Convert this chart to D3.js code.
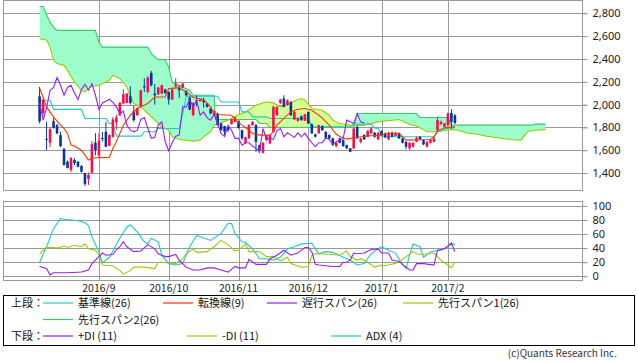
<!DOCTYPE html>
<html>
<head>
<meta charset="utf-8">
<script src="https://cdn.jsdelivr.net/npm/d3@7"></script>
<style>
  body { margin: 0; background: #fff; }
  svg { display: block; font-family: "Noto Sans CJK JP", "Noto Sans", sans-serif; }
</style>
</head>
<body>
<div id="chart"></div>
<script>
// daily candles, Aug 8 2016 .. Feb 3 2017 (index = trading day)
var opens  = [2073,1925,1700,1666,1855,1820,1733,1611,1500,1427,1514,1500,1462,1398,1349,1404,1666,1558,1707,1762,
              1640,1718,1844,1907,2010,2015,2073,1942,1907,1986,2160,2111,2277,2097,2091,2097,2132,2111,2045,2160,
              2150,2150,2120,2062,1907,2038,2030,2038,2010,1966,1914,1922,1835,1811,1803,1829,1849,1855,1776,1666,
              1704,1820,1820,1645,1578,1689,1660,1762,1907,2015,2053,1995,2023,1870,1858,1898,1858,1936,1829,1740,
              1748,1811,1762,1733,1704,1637,1704,1689,1645,1617,1617,1805,1674,1733,1718,1748,1753,1695,1768,1748,
              1695,1753,1725,1748,1704,1674,1617,1631,1674,1718,1689,1631,1666,1674,1776,1829,1805,1820,1927,1907];
var highs  = [2155,2060,1849,1803,1881,1830,1762,1620,1510,1540,1530,1505,1470,1405,1405,1680,1750,1750,1760,1850,
              1740,1890,1910,2020,2135,2100,2160,1990,1975,2130,2230,2250,2295,2180,2155,2175,2140,2115,2140,2230,
              2170,2190,2125,2070,2020,2080,2055,2060,2015,1970,1950,1930,1840,1815,1810,1875,1895,1860,1780,1720,
              1830,1855,1830,1650,1670,1730,1740,1990,1985,2050,2082,2045,2030,1940,1890,1905,1920,1940,1835,1745,
              1825,1820,1765,1740,1710,1670,1710,1695,1650,1620,1800,1815,1710,1740,1775,1800,1760,1760,1775,1755,
              1760,1765,1760,1755,1710,1680,1670,1670,1720,1725,1695,1680,1700,1720,1890,1860,1840,1930,1960,1915];
var lows   = [1835,1900,1602,1628,1790,1740,1628,1465,1440,1410,1470,1450,1405,1288,1296,1395,1555,1540,1678,1631,
              1635,1710,1780,1900,2005,2010,2000,1850,1900,1980,2110,2100,2160,2000,2085,2090,2095,2000,2040,2140,
              2060,2145,2075,1950,1900,1985,2025,1975,1975,1915,1910,1815,1770,1730,1760,1825,1845,1790,1690,1655,
              1700,1815,1587,1575,1570,1680,1655,1755,1900,2005,1975,1990,1900,1865,1850,1860,1855,1830,1745,1710,
              1745,1770,1700,1695,1640,1625,1660,1630,1612,1585,1610,1700,1660,1690,1715,1740,1710,1690,1725,1708,
              1690,1715,1720,1700,1660,1610,1600,1625,1670,1690,1645,1625,1660,1670,1760,1820,1800,1790,1790,1830];
var closes = [1855,2040,1695,1785,1797,1748,1637,1471,1445,1532,1488,1456,1412,1305,1383,1654,1602,1683,1700,1631,
              1733,1870,1887,2018,2091,2097,2015,1864,1971,2126,2150,2237,2170,2082,2150,2170,2102,2045,2132,2178,
              2126,2184,2082,1957,2015,2030,2047,2020,1980,1922,1942,1820,1776,1762,1776,1870,1887,1795,1704,1713,
              1820,1849,1674,1596,1666,1724,1733,1980,1980,2045,1980,2038,1907,1936,1884,1864,1916,1835,1748,1720,
              1820,1776,1704,1704,1645,1666,1666,1637,1617,1587,1791,1704,1704,1695,1770,1791,1718,1753,1733,1713,
              1753,1718,1750,1704,1666,1631,1666,1666,1709,1695,1652,1674,1689,1704,1864,1849,1835,1922,1849,1840];

// ichimoku lines as [day index, price] vertices
var tenkan = [[0,2143],[1,2067],[2,1980],[4,1890],[6,1820],[7,1791],[8,1748],[9,1645],[10,1637],[12,1600],[14,1514],[15,1532],
              [20,1538],[21,1617],[22,1674],[24,1820],[26,1907],[28,1966],[31,2010],[33,2067],[36,2067],[37,2140],[40,2149],
              [42,2111],[44,2062],[47,2045],[49,1980],[50,1922],[51,1913],[55,1907],[56,1870],[58,1820],[60,1776],[61,1748],
              [63,1733],[66,1733],[67,1762],[68,1820],[69,1849],[70,1879],[72,1936],[74,1960],[76,1966],[78,1951],[80,1907],
              [81,1881],[83,1820],[85,1740],[86,1720],[88,1698],[92,1718],[95,1727],[98,1733],[100,1748],[103,1748],[105,1689],
              [112,1695],[113,1718],[114,1770],[116,1797],[119,1805]];
var kijun  = [[0,2038],[3,2038],[4,1958],[12,1958],[13,1879],[19,1879],[20,1835],[21,1835],[22,1724],[29,1724],[30,1762],
              [33,1762],[34,1791],[40,1791],[41,1920],[42,2073],[51,2073],[52,2023],[57,2023],[58,1936],[60,1936],[61,1893],
              [65,1893],[66,1879],[77,1879],[78,1805],[89,1805],[90,1829],[95,1829],[96,1794],[97,1794],[98,1718],[113,1718],
              [114,1760],[116,1790],[119,1800]];
var span1  = [[0,2577],[2,2566],[3,2504],[4,2388],[5,2360],[7,2344],[8,2300],[10,2198],[12,2126],[13,2111],[14,2140],[15,2160],
              [17,2169],[19,2198],[20,2213],[21,2257],[23,2228],[25,2155],[26,2067],[27,2010],[29,1980],[31,1922],[34,1835],
              [35,1805],[37,1776],[38,1718],[40,1695],[44,1680],[46,1689],[47,1718],[49,1762],[50,1820],[54,1864],[56,1898],
              [59,1936],[62,1995],[64,2015],[65,2023],[67,2015],[69,1980],[71,2000],[74,2045],[75,2053],[76,2040],[78,1966],
              [81,1951],[83,1907],[84,1864],[86,1835],[89,1820],[91,1815],[93,1820],[97,1849],[103,1870],[106,1825],[108,1812],
              [111,1762],[114,1762],[118,1783],[120,1776],[122,1753],[125,1742],[128,1724],[131,1709],[135,1695],[138,1689],
              [139,1733],[140,1765],[142,1776],[145,1783]];
var span2  = [[0,2860],[1,2860],[2,2790],[3,2720],[4,2679],[5,2650],[16,2650],[17,2548],[18,2504],[31,2504],[32,2446],[34,2394],
              [36,2394],[37,2329],[38,2198],[40,2169],[42,2140],[43,2126],[44,2082],[50,2082],[50.4,1870],[62,1870],[63,1835],
              [65,1835],[66,1800],[90,1800],[91,1922],[108,1922],[109,1887],[117,1887],[118,1820],[141,1820],[142,1829],[145,1829]];

// DMI lines, [day index, value]
var plusDI  = [[0,14],[2,11],[3,2],[4,5],[8,5],[12,6],[14,9],[15,18],[17,28],[18,33],[19,30],[21,31],[22,38],[23,42],[24,49],
               [25,42],[27,35],[29,36],[31,45],[33,39],[34,32],[36,28],[37,28],[39,31],[40,23],[42,13],[44,9],[46,9],[48,12],
               [50,12],[52,9],[54,6],[56,14],[57,12],[59,12],[60,24],[62,17],[65,17],[66,25],[68,30],[70,37],[72,30],[74,33],
               [76,41],[77,41],[78,35],[79,17],[80,16],[84,14],[86,14],[87,20],[88,20],[89,23],[90,33],[91,32],[93,33],[95,38],
               [97,39],[98,33],[100,33],[101,23],[103,21],[105,13],[106,9],[107,9],[108,18],[110,18],[113,16],[114,37],[116,39],
               [117,43],[118,47],[119,35]];
var minusDI = [[0,31],[1,37],[2,41],[4,41],[5,40],[7,43],[8,41],[10,44],[12,42],[13,46],[14,39],[16,37],[17,30],[18,16],[21,15],
               [23,8],[24,3],[26,8],[27,13],[30,13],[33,11],[34,20],[35,20],[37,19],[39,18],[41,25],[42,32],[44,39],[45,34],
               [48,35],[50,42],[52,51],[54,45],[56,36],[57,37],[59,46],[60,35],[63,35],[65,28],[67,28],[69,22],[71,27],[72,18],
               [75,13],[77,14],[78,30],[79,32],[80,32],[84,31],[86,30],[88,36],[89,28],[91,23],[92,25],[94,20],[96,13],[98,16],
               [99,15],[101,17],[103,20],[105,28],[107,35],[108,32],[110,31],[111,32],[113,33],[115,23],[117,16],[118,12],[119,20]];
var adx     = [[0,20],[2,42],[4,68],[6,82],[7,81],[11,79],[13,76],[14,72],[15,56],[17,35],[18,19],[20,27],[23,54],[25,70],[26,73],
               [28,63],[30,49],[31,46],[32,54],[34,49],[35,30],[37,18],[39,16],[41,18],[43,42],[45,58],[49,51],[52,61],[54,75],
               [55,75],[56,61],[58,49],[59,48],[61,39],[63,25],[65,25],[67,23],[69,27],[71,39],[73,42],[75,46],[78,47],[79,39],
               [80,32],[82,35],[84,34],[85,32],[87,27],[89,23],[91,16],[93,18],[95,32],[97,39],[98,42],[100,37],[102,33],[104,16],
               [105,11],[106,30],[107,46],[109,42],[110,27],[112,35],[115,37],[117,42],[118,47],[119,45]];

var monthIdx    = [17, 37, 57, 77, 98, 117];
var monthLabels = ["2016/9", "2016/10", "2016/11", "2016/12", "2017/1", "2017/2"];
var priceTicks  = [1400, 1600, 1800, 2000, 2200, 2400, 2600, 2800];
var dmiTicks    = [0, 20, 40, 60, 80, 100];

var W = 638, H = 362;
var left = 3, right = 582;
var top1 = 0.5, bot1 = 190.5, top2 = 201.5, bot2 = 280.5;

var svg = d3.select('#chart').append('svg')
    .attr('width', W)
    .attr('height', H);

var x = d3.scaleLinear().domain([0, 119]).range([39.6, 39.6 + 119 * 3.49]);
var y = d3.scaleLinear().domain([1400, 2800]).range([173.1, 13.3]);
var y2 = d3.scaleLinear().domain([0, 100]).range([276.3, 205.9]);

var gridColor = '#999';

// ---- panel frames / grids
function drawGrid(yScale, ticks, t, b) {
  var g = svg.append('g');
  ticks.forEach(function(v) {
    var yy = Math.round(yScale(v)) + 0.5;
    g.append('line').attr('x1', left).attr('x2', right + 5).attr('y1', yy).attr('y2', yy)
      .style('stroke', gridColor);
  });
  monthIdx.forEach(function(i) {
    var xx = Math.round(x(i)) + 0.5;
    g.append('line').attr('x1', xx).attr('x2', xx).attr('y1', t).attr('y2', b)
      .style('stroke', gridColor);
  });
  g.append('rect').attr('x', left + 0.5).attr('y', t).attr('width', right - left).attr('height', b - t)
    .attr('fill', 'none').style('stroke', gridColor);
}
drawGrid(y, priceTicks, top1, bot1);
drawGrid(y2, dmiTicks, top2, bot2);

// right axes
svg.append('g')
    .attr('transform', 'translate(' + (right + 0.5) + ',0)')
    .call(d3.axisRight(y).tickValues(priceTicks).tickFormat(d3.format(',')).tickSize(5).tickPadding(5))
    .call(styleAxis);
svg.append('g')
    .attr('transform', 'translate(' + (right + 0.5) + ',0)')
    .call(d3.axisRight(y2).tickValues(dmiTicks).tickSize(5).tickPadding(5))
    .call(styleAxis);

function styleAxis(g) {
  g.select('.domain').remove();
  g.selectAll('line').style('stroke', gridColor);
  g.selectAll('text').style('font-size', '11px').style('fill', '#222')
    .style('font-family', '"Noto Sans", sans-serif');
}

// month labels under the lower panel
svg.append('g').selectAll('text')
    .data(monthIdx)
    .enter().append('text')
      .attr('x', function(d) { return x(d); })
      .attr('y', 292)
      .attr('text-anchor', 'middle')
      .style('font-size', '10.5px')
      .style('fill', '#222')
      .text(function(d, k) { return monthLabels[k]; });

// ---- upper panel content
svg.append('clipPath').attr('id', 'clip1')
  .append('rect').attr('x', left + 1).attr('y', 1).attr('width', right - left - 1).attr('height', bot1 - 1.5);

var p1 = svg.append('g').attr('clip-path', 'url(#clip1)');

// cloud fills: mint where span2 is above span1, light yellow where span1 is above span2
var areaUp = function(d) {
  return d3.area().x(function(p) { return x(p[0]); }).y0(0).y1(function(p) { return y(p[1]); })(d);
};
var areaDown = function(d) {
  return d3.area().x(function(p) { return x(p[0]); }).y0(bot1).y1(function(p) { return y(p[1]); })(d);
};
svg.append('clipPath').attr('id', 'above1').append('path').attr('d', areaUp(span1));
svg.append('clipPath').attr('id', 'above2').append('path').attr('d', areaUp(span2));

p1.append('path').attr('d', areaDown(span2)).attr('clip-path', 'url(#above1)')
    .attr('fill', '#9ffccc');
p1.append('path').attr('d', areaDown(span1)).attr('clip-path', 'url(#above2)')
    .attr('fill', '#d4ff99');

var line = d3.line()
    .x(function(d) { return x(d[0]); })
    .y(function(d) { return y(d[1]); });

function addLine(g, data, color, gen) {
  g.append('path')
    .attr('d', (gen || line)(data))
    .attr('fill', 'none')
    .attr('stroke', color)
    .attr('stroke-width', 1.1);
}

addLine(p1, span2, '#33cc66');
addLine(p1, span1, '#99cc00');
addLine(p1, kijun, '#1ccccc');

// chikou: closes plotted 26 days back
var chikou = closes.slice(26).map(function(c, k) { return [k, c]; });

// candles
var upColor = '#f0104a', downColor = '#0a3499';
var candles = p1.append('g').selectAll('g')
    .data(closes.map(function(c, i) { return {i: i, o: opens[i], h: highs[i], l: lows[i], c: c}; }))
    .enter().append('g');
candles.append('line')
    .attr('x1', function(d) { return x(d.i); })
    .attr('x2', function(d) { return x(d.i); })
    .attr('y1', function(d) { return y(d.h); })
    .attr('y2', function(d) { return y(d.l); })
    .style('stroke', function(d) { return d.c >= d.o ? upColor : downColor; });
candles.append('rect')
    .attr('x', function(d) { return x(d.i) - 1.3; })
    .attr('width', 2.6)
    .attr('y', function(d) { return y(Math.max(d.o, d.c)); })
    .attr('height', function(d) { return Math.max(1, Math.abs(y(d.o) - y(d.c))); })
    .attr('fill', function(d) { return d.c >= d.o ? upColor : downColor; });

addLine(p1, tenkan, '#ff3300');
addLine(p1, chikou, '#9a1cf5');

// ---- lower panel content
svg.append('clipPath').attr('id', 'clip2')
  .append('rect').attr('x', left + 1).attr('y', top2 + 0.5).attr('width', right - left - 1).attr('height', bot2 - top2 - 1);
var p2 = svg.append('g').attr('clip-path', 'url(#clip2)');
var line2 = d3.line()
    .x(function(d) { return x(d[0]); })
    .y(function(d) { return y2(d[1]); });
addLine(p2, adx, '#1cc8d0', line2);
addLine(p2, minusDI, '#99cc00', line2);
addLine(p2, plusDI, '#9a1cf5', line2);

// ---- legend
var legend = svg.append('g');
legend.append('rect')
    .attr('x', 3.5).attr('y', 295.5).attr('width', 631).attr('height', 50)
    .attr('fill', 'none').style('stroke', '#000');

var legendRows = [303, 319.5, 336];
var legendItems = [
  {row: 0, x: 43, color: '#1ccccc', label: '基準線(26)'},
  {row: 0, x: 163, color: '#ff3300', label: '転換線(9)'},
  {row: 0, x: 267, color: '#9a1cf5', label: '遅行スパン(26)'},
  {row: 0, x: 403, color: '#99cc00', label: '先行スパン1(26)'},
  {row: 1, x: 43, color: '#33cc66', label: '先行スパン2(26)'},
  {row: 2, x: 43, color: '#9a1cf5', label: '+DI (11)'},
  {row: 2, x: 187, color: '#99cc00', label: '-DI (11)'},
  {row: 2, x: 331, color: '#1cc8d0', label: 'ADX (4)'}
];
legend.append('text').attr('x', 11).attr('y', legendRows[0] + 4).text('上段：');
legend.append('text').attr('x', 11).attr('y', legendRows[2] + 4).text('下段：');
legendItems.forEach(function(d) {
  var yy = legendRows[d.row];
  legend.append('line').attr('x1', d.x).attr('x2', d.x + 30).attr('y1', yy).attr('y2', yy)
    .style('stroke', d.color).style('stroke-width', 1.2);
  legend.append('text').attr('x', d.x + 35).attr('y', yy + 4).text(d.label);
});
legend.selectAll('text').style('font-size', '11px').style('fill', '#111');

svg.append('text')
    .attr('x', 617).attr('y', 357)
    .attr('text-anchor', 'end')
    .style('font-size', '10px')
    .style('fill', '#333')
    .text('(c)Quants Research Inc.');
</script>
</body>
</html>
